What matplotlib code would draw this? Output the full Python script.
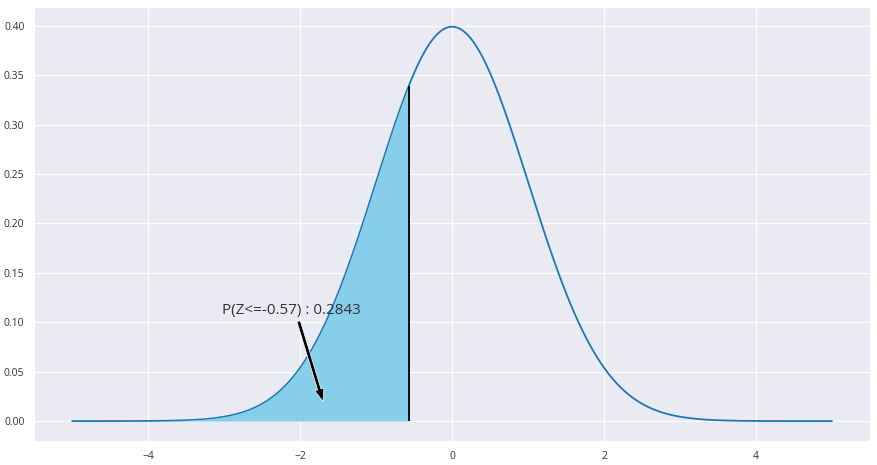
import numpy as np
import matplotlib.pyplot as plt
import seaborn as sns

# distribution parameters
MU = 0.0
SIGMA = 1.0
X_MIN, X_MAX = -5, 5
Z_CUT = -0.57
P_CUT = 0.2843
LABEL = "P(Z<=-0.57) : 0.2843"

sns.set_style("darkgrid")
plt.rcParams["font.family"] = ["Open Sans", "DejaVu Sans"]


def normal_pdf(x, mu, sigma):
    return np.exp(-0.5 * ((x - mu) / sigma) ** 2) / (sigma * np.sqrt(2 * np.pi))


xs = np.linspace(X_MIN, X_MAX, 1000)
ys = normal_pdf(xs, MU, SIGMA)

fig, ax = plt.subplots(figsize=(8.77, 4.65), dpi=100)
ax.plot(xs, ys, color="tab:blue", lw=1.3)

# shaded tail drawn over the curve, so the line looks thinner there
mask = xs <= Z_CUT
ax.fill_between(xs[mask], ys[mask], color="skyblue", lw=0, zorder=2.5)
ax.vlines(Z_CUT, 0, normal_pdf(Z_CUT, MU, SIGMA), color="black", lw=1.3, zorder=3)

ax.text(-3.03, 0.108, LABEL, fontsize=11, color="#333333")
ax.annotate("", xy=(-1.7, 0.02), xytext=(-2.02, 0.101),
            arrowprops=dict(facecolor="black", edgecolor="white", lw=0.5,
                            width=2.5, headwidth=7, headlength=9, shrink=0))

ax.tick_params(labelsize=7.5, colors="#333333")
ax.set_xticks([-4, -2, 0, 2, 4])
ax.set_yticks(np.arange(0, 0.41, 0.05))
ax.yaxis.set_major_formatter(plt.FormatStrFormatter("%.2f"))

fig.subplots_adjust(left=0.039, right=0.992, top=0.985, bottom=0.052)
fig.savefig("out.png")
